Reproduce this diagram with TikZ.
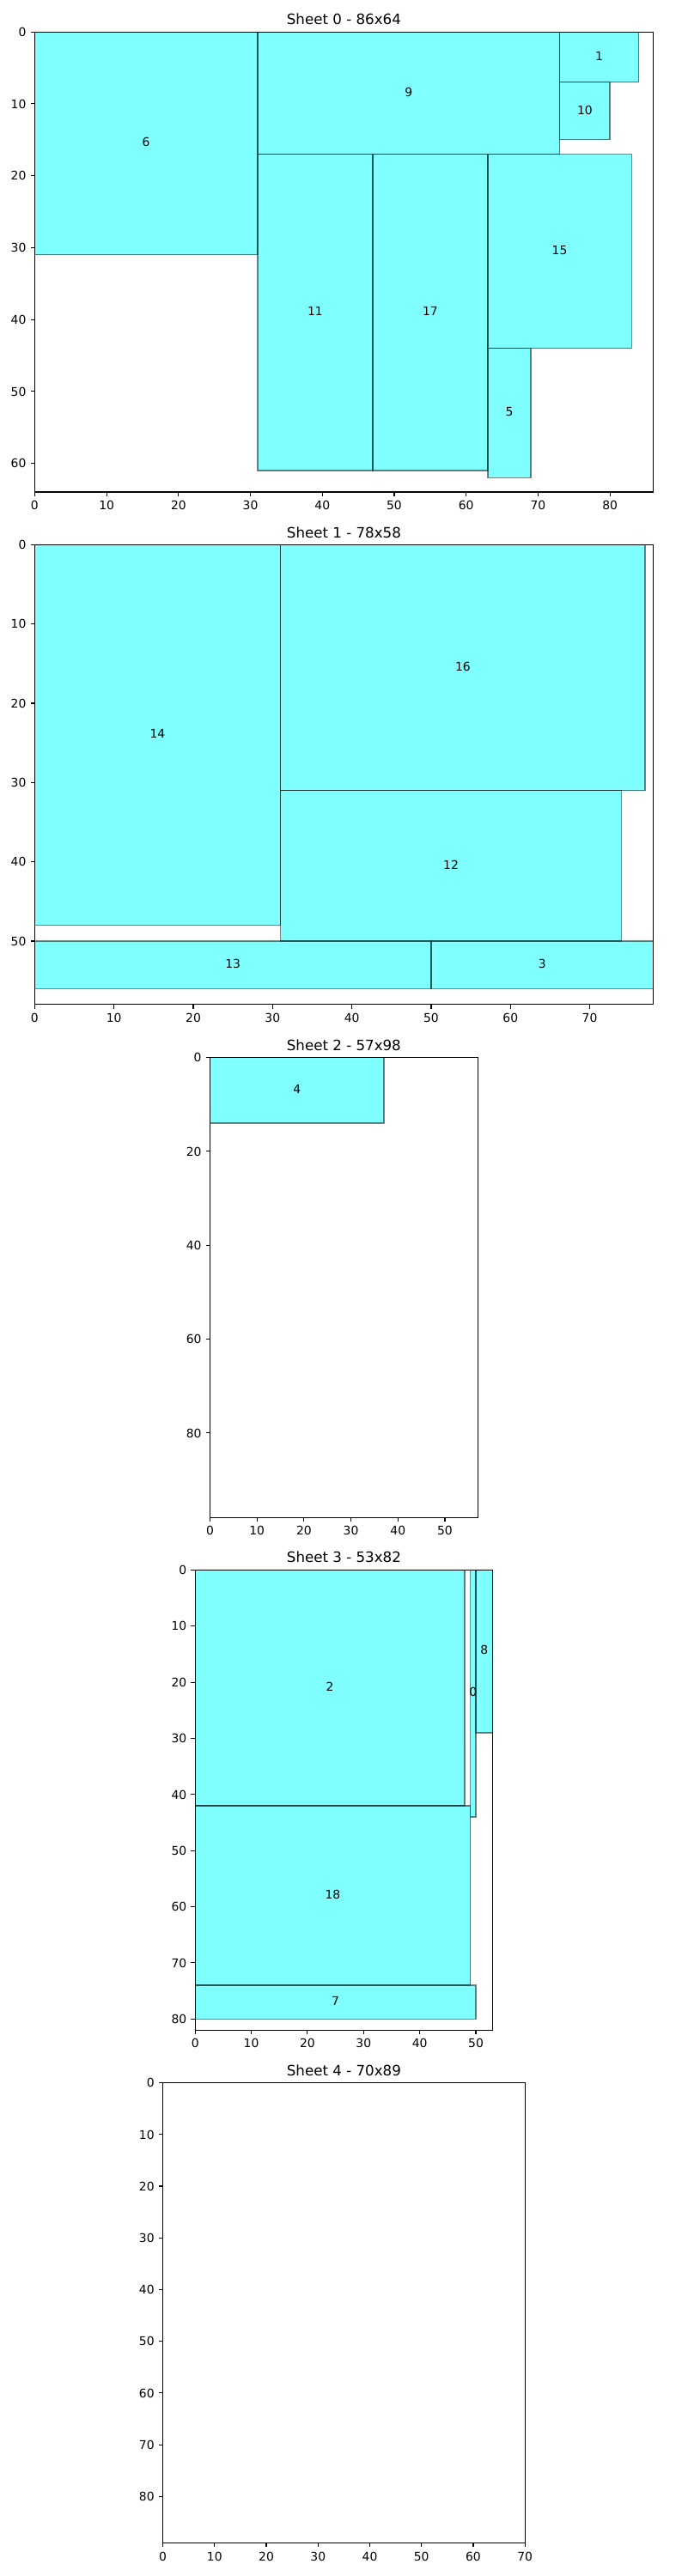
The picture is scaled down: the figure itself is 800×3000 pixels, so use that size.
\documentclass[tikz,border=0pt]{standalone}
\usepackage{fontspec}
\setmainfont{DejaVu Sans}
\definecolor{mplcyan}{RGB}{0,255,255}
\begin{document}
\begin{tikzpicture}[x=0.72pt,y=-0.72pt,
  piece/.style={fill=mplcyan, draw=black, opacity=0.5, line width=1pt},
  spine/.style={draw=black, line width=0.8pt},
  tickmark/.style={draw=black, line width=0.8pt},
  lbl/.style={font=\fontsize{10}{12}\selectfont, inner sep=0pt, text height=7.6pt, text depth=2.1pt, anchor=center},
  xlbl/.style={font=\fontsize{10}{12}\selectfont, inner sep=0pt, text height=7.6pt, text depth=0pt, anchor=north},
  ylbl/.style={font=\fontsize{10}{12}\selectfont, inner sep=0pt, text height=7.6pt, text depth=0pt, anchor=east},
  ttl/.style={font=\fontsize{12}{14}\selectfont, inner sep=0pt, anchor=base}]
\fill[white] (0,0) rectangle (800,3000);
\useasboundingbox (0,0) rectangle (800,3000);

% ---------------- Sheet 0 ----------------
\begin{scope}[shift={({40.4*0.72pt},{-37.2*0.72pt})}, x=6.0278pt, y=-6.0278pt]
  \begin{scope}
    \clip (0,0) rectangle (86,64);
    \draw[piece] (0,0) rectangle ++(31,31);
    \draw[piece] (31,0) rectangle ++(42,17);
    \draw[piece] (73,0) rectangle ++(11,7);
    \draw[piece] (73,7) rectangle ++(7,8);
    \draw[piece] (31,17) rectangle ++(16,44);
    \draw[piece] (47,17) rectangle ++(16,44);
    \draw[piece] (63,17) rectangle ++(20,27);
    \draw[piece] (63,44) rectangle ++(6,18);
  \end{scope}
  \draw[spine] (0,0) rectangle (86,64);
  \node[lbl] (s0p6) at (15.5,15.5) {6};
  \node[lbl] (s0p9) at (52,8.5) {9};
  \node[lbl] (s0p1) at (78.5,3.5) {1};
  \node[lbl] (s0p10) at (76.5,11) {10};
  \node[lbl] (s0p11) at (39,39) {11};
  \node[lbl] (s0p17) at (55,39) {17};
  \node[lbl] (s0p15) at (73,30.5) {15};
  \node[lbl] (s0p5) at (66,53) {5};
  \foreach \tk in {0,10,...,80} {
    \draw[tickmark] (\tk,64) -- ++(0pt,-3.5pt);
    \node[xlbl] (s0x\tk) at ([yshift=-7pt]\tk,64) {\tk};
  }
  \foreach \tk in {0,10,...,60} {
    \draw[tickmark] (0,\tk) -- ++(-3.5pt,0pt);
    \node[ylbl] (s0y\tk) at ([xshift=-7pt]0,\tk) {\tk};
  }
  \node[ttl] (s0t) at ([yshift=6pt]43,0) {Sheet 0 - 86x64};
\end{scope}

% ---------------- Sheet 1 ----------------
\begin{scope}[shift={({40.4*0.72pt},{-634.4*0.72pt})}, x=6.6462pt, y=-6.6462pt]
  \begin{scope}
    \clip (0,0) rectangle (78,58);
    \draw[piece] (0,0) rectangle ++(31,48);
    \draw[piece] (31,0) rectangle ++(46,31);
    \draw[piece] (31,31) rectangle ++(43,19);
    \draw[piece] (0,50) rectangle ++(50,6);
    \draw[piece] (50,50) rectangle ++(28,6);
  \end{scope}
  \draw[spine] (0,0) rectangle (78,58);
  \node[lbl] (s1p14) at (15.5,24) {14};
  \node[lbl] (s1p16) at (54,15.5) {16};
  \node[lbl] (s1p12) at (52.5,40.5) {12};
  \node[lbl] (s1p13) at (25,53) {13};
  \node[lbl] (s1p3) at (64,53) {3};
  \foreach \tk in {0,10,...,70} {
    \draw[tickmark] (\tk,58) -- ++(0pt,-3.5pt);
    \node[xlbl] (s1x\tk) at ([yshift=-7pt]\tk,58) {\tk};
  }
  \foreach \tk in {0,10,...,50} {
    \draw[tickmark] (0,\tk) -- ++(-3.5pt,0pt);
    \node[ylbl] (s1y\tk) at ([xshift=-7pt]0,\tk) {\tk};
  }
  \node[ttl] (s1t) at ([yshift=6pt]39,0) {Sheet 1 - 78x58};
\end{scope}

% ---------------- Sheet 2 ----------------
\begin{scope}[shift={({244.5*0.72pt},{-1231.4*0.72pt})}, x=3.9377pt, y=-3.9377pt]
  \begin{scope}
    \clip (0,0) rectangle (57,98);
    \draw[piece] (0,0) rectangle ++(37,14);
  \end{scope}
  \draw[spine] (0,0) rectangle (57,98);
  \node[lbl] (s2p4) at (18.5,7) {4};
  \foreach \tk in {0,10,...,50} {
    \draw[tickmark] (\tk,98) -- ++(0pt,-3.5pt);
    \node[xlbl] (s2x\tk) at ([yshift=-7pt]\tk,98) {\tk};
  }
  \foreach \tk in {0,20,...,80} {
    \draw[tickmark] (0,\tk) -- ++(-3.5pt,0pt);
    \node[ylbl] (s2y\tk) at ([xshift=-7pt]0,\tk) {\tk};
  }
  \node[ttl] (s2t) at ([yshift=6pt]28.5,0) {Sheet 2 - 57x98};
\end{scope}

% ---------------- Sheet 3 ----------------
\begin{scope}[shift={({227.2*0.72pt},{-1828.3*0.72pt})}, x=4.7066pt, y=-4.7066pt]
  \begin{scope}
    \clip (0,0) rectangle (53,82);
    \draw[piece] (0,0) rectangle ++(48,42);
    \draw[piece] (49,0) rectangle ++(1,44);
    \draw[piece] (50,0) rectangle ++(3,29);
    \draw[piece] (0,42) rectangle ++(49,32);
    \draw[piece] (0,74) rectangle ++(50,6);
  \end{scope}
  \draw[spine] (0,0) rectangle (53,82);
  \node[lbl] (s3p2) at (24,21) {2};
  \node[lbl] (s3p0) at (49.5,22) {0};
  \node[lbl] (s3p8) at (51.5,14.5) {8};
  \node[lbl] (s3p18) at (24.5,58) {18};
  \node[lbl] (s3p7) at (25,77) {7};
  \foreach \tk in {0,10,...,50} {
    \draw[tickmark] (\tk,82) -- ++(0pt,-3.5pt);
    \node[xlbl] (s3x\tk) at ([yshift=-7pt]\tk,82) {\tk};
  }
  \foreach \tk in {0,10,...,80} {
    \draw[tickmark] (0,\tk) -- ++(-3.5pt,0pt);
    \node[ylbl] (s3y\tk) at ([xshift=-7pt]0,\tk) {\tk};
  }
  \node[ttl] (s3t) at ([yshift=6pt]26.5,0) {Sheet 3 - 53x82};
\end{scope}

% ---------------- Sheet 4 ----------------
\begin{scope}[shift={({189.6*0.72pt},{-2425.5*0.72pt})}, x=4.3362pt, y=-4.3362pt]
  \draw[spine] (0,0) rectangle (70,89);
  \foreach \tk in {0,10,...,70} {
    \draw[tickmark] (\tk,89) -- ++(0pt,-3.5pt);
    \node[xlbl] (s4x\tk) at ([yshift=-7pt]\tk,89) {\tk};
  }
  \foreach \tk in {0,10,...,80} {
    \draw[tickmark] (0,\tk) -- ++(-3.5pt,0pt);
    \node[ylbl] (s4y\tk) at ([xshift=-7pt]0,\tk) {\tk};
  }
  \node[ttl] (s4t) at ([yshift=6pt]35,0) {Sheet 4 - 70x89};
\end{scope}
\end{tikzpicture}
\end{document}
